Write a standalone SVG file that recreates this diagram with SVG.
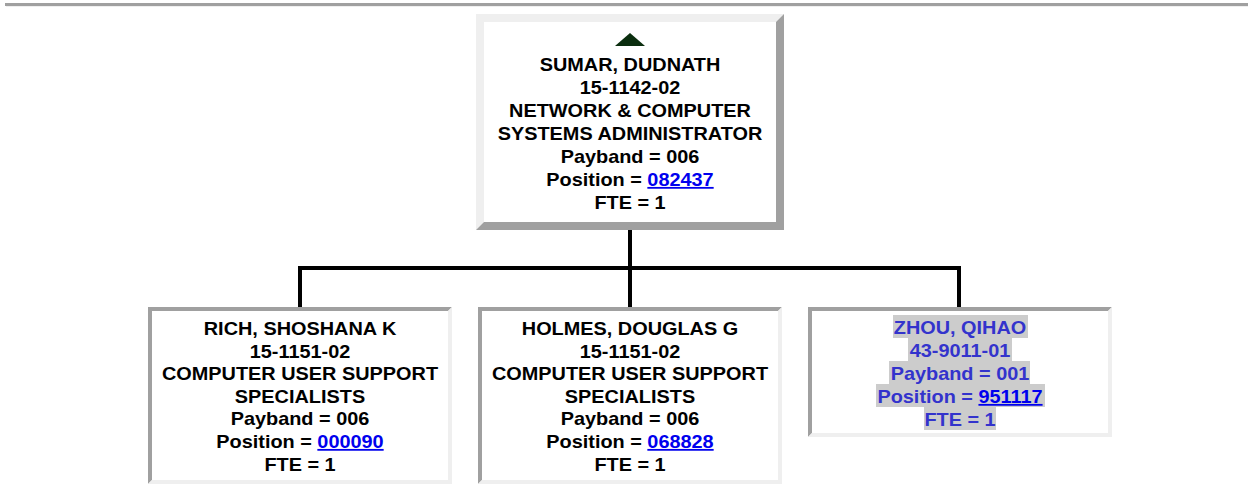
<svg xmlns="http://www.w3.org/2000/svg" width="1251" height="487" viewBox="0 0 1251 487">
<style>
.t{font-family:"Liberation Sans",Arial,sans-serif;font-weight:bold;font-size:18px;text-anchor:middle;fill:#000}
.lnk{fill:#0000ee;text-decoration:underline}
.z{fill:#3333cc}
.lt{fill:#efefef}
.dk{fill:#a0a0a0}
.hl{fill:#cccccc}
.c{stroke:#000;stroke-width:4;fill:none;stroke-linecap:square}
</style>
<rect width="1251" height="487" fill="#fff"/>
<g id="rule">
<rect x="5" y="3" width="1243" height="3" class="dk"/>
<rect x="6" y="6" width="1242" height="1" class="lt"/>
</g>
<g id="connectors">
<path class="c" d="M630 232V305M300 268H959M300 268V305M959 268V305"/>
</g>
<g id="node-sumar">
<rect x="476" y="14" width="308" height="216" fill="#fff"/>
<polygon class="lt" points="476,14 784,14 776,22 484,22 484,222 476,230"/>
<polygon class="dk" points="784,14 784,230 476,230 484,222 776,222 776,22"/>
<polygon points="630,33 645,46 615,46" fill="#0b2e0f"/>
<g transform="translate(630 0) scale(1.105 1)">
<text class="t" x="0" y="71">SUMAR, DUDNATH</text>
<text class="t" x="0" y="94">15-1142-02</text>
<text class="t" x="0" y="117">NETWORK &amp; COMPUTER</text>
<text class="t" x="0" y="140">SYSTEMS ADMINISTRATOR</text>
<text class="t" x="0" y="163">Payband = 006</text>
<text class="t" x="0" y="186">Position = <tspan class="lnk">082437</tspan></text>
<text class="t" x="0" y="209">FTE = 1</text>
</g>
</g>
<g id="node-rich">
<rect x="148" y="307" width="304" height="177" fill="#fff"/>
<polygon class="dk" points="148,307 452,307 448,311 152,311 152,480 148,484"/>
<polygon class="lt" points="452,307 452,484 148,484 152,480 448,480 448,311"/>
<g transform="translate(300 0) scale(1.105 1)">
<text class="t" x="0" y="335">RICH, SHOSHANA K</text>
<text class="t" x="0" y="358">15-1151-02</text>
<text class="t" x="0" y="380">COMPUTER USER SUPPORT</text>
<text class="t" x="0" y="403">SPECIALISTS</text>
<text class="t" x="0" y="425">Payband = 006</text>
<text class="t" x="0" y="448">Position = <tspan class="lnk">000090</tspan></text>
<text class="t" x="0" y="471">FTE = 1</text>
</g>
</g>
<g id="node-holmes">
<rect x="478" y="307" width="304" height="177" fill="#fff"/>
<polygon class="dk" points="478,307 782,307 778,311 482,311 482,480 478,484"/>
<polygon class="lt" points="782,307 782,484 478,484 482,480 778,480 778,311"/>
<g transform="translate(630 0) scale(1.105 1)">
<text class="t" x="0" y="335">HOLMES, DOUGLAS G</text>
<text class="t" x="0" y="358">15-1151-02</text>
<text class="t" x="0" y="380">COMPUTER USER SUPPORT</text>
<text class="t" x="0" y="403">SPECIALISTS</text>
<text class="t" x="0" y="425">Payband = 006</text>
<text class="t" x="0" y="448">Position = <tspan class="lnk">068828</tspan></text>
<text class="t" x="0" y="471">FTE = 1</text>
</g>
</g>
<g id="node-zhou">
<rect x="808" y="307" width="304" height="130" fill="#fff"/>
<polygon class="dk" points="808,307 1112,307 1108,311 812,311 812,433 808,437"/>
<polygon class="lt" points="1112,307 1112,437 808,437 812,433 1108,433 1108,311"/>
<rect class="hl" x="893" y="315" width="135" height="23"/>
<rect class="hl" x="908" y="338" width="104" height="23"/>
<rect class="hl" x="889" y="361" width="141" height="23"/>
<rect class="hl" x="876" y="384" width="169" height="23"/>
<rect class="hl" x="924" y="407" width="72" height="23"/>
<g transform="translate(960 0) scale(1.105 1)">
<text class="t z" x="0" y="334">ZHOU, QIHAO</text>
<text class="t z" x="0" y="357">43-9011-01</text>
<text class="t z" x="0" y="380">Payband = 001</text>
<text class="t z" x="0" y="403">Position = <tspan class="lnk">951117</tspan></text>
<text class="t z" x="0" y="426">FTE = 1</text>
</g>
</g>
</svg>
